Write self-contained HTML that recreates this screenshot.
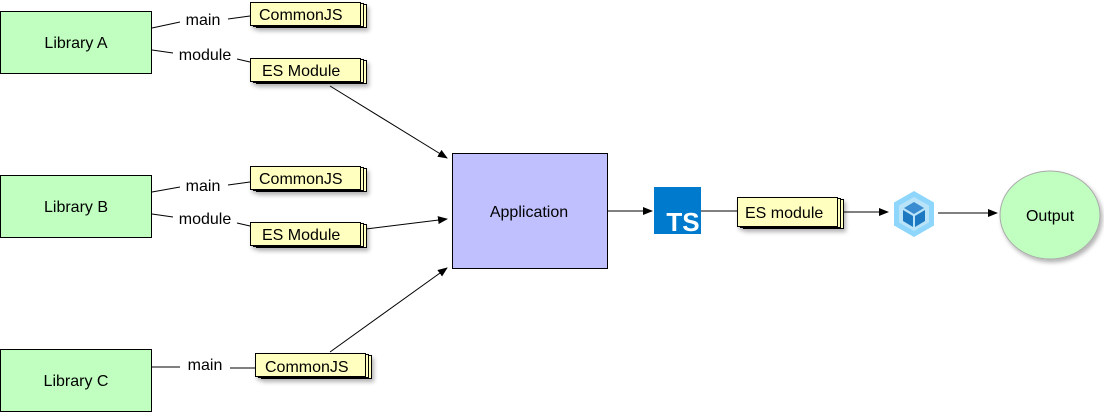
<!DOCTYPE html>
<html><head><meta charset="utf-8"><style>
html,body{margin:0;padding:0;background:#fff;}
svg{display:block;font-family:"Liberation Sans",Arial,sans-serif;}
</style></head><body>
<svg width="1104" height="414" viewBox="0 0 1104 414" xmlns="http://www.w3.org/2000/svg">
<defs>
<marker id="ar" markerWidth="10" markerHeight="8" refX="9" refY="4" orient="auto" markerUnits="userSpaceOnUse">
<path d="M0,0 L10,4 L0,8 Z" fill="#000"/></marker>
<filter id="sh" x="-10%" y="-10%" width="130%" height="140%"><feDropShadow dx="2" dy="3" stdDeviation="2" flood-color="#000" flood-opacity="0.3"/></filter>
</defs>
<g stroke="#000" stroke-width="1" fill="#c0ffc0">
<rect x="0.5" y="11.5" width="151" height="62"/>
<rect x="0.5" y="175.5" width="151" height="62"/>
<rect x="0.5" y="349.5" width="151" height="62"/>
</g>
<g font-size="16" fill="#000" text-anchor="middle">
<text x="76" y="48">Library A</text>
<text x="76" y="212">Library B</text>
<text x="76" y="386">Library C</text>
</g>
<g stroke="#000" stroke-width="1" fill="none">
<path d="M152,28 L180,22 M228,19 L250,16"/>
<path d="M152,50 L173,53 M237,59 L250,62"/>
<path d="M152,192 L180,187 M228,185 L250,182"/>
<path d="M152,214 L173,217 M237,223 L250,226"/>
<path d="M152,367 L180,367 M230,368 L255,368"/>
</g>
<g font-size="16" fill="#000" text-anchor="middle">
<text x="203" y="25">main</text>
<text x="205" y="60">module</text>
<text x="203" y="191">main</text>
<text x="205" y="224">module</text>
<text x="205" y="370">main</text>
</g>
<g stroke="#000" stroke-width="1" fill="#ffffc0">
<g filter="url(#sh)"><rect x="256.5" y="4.5" width="110" height="23"/><rect x="253.5" y="3.5" width="110" height="23"/><rect x="250.5" y="2.5" width="110" height="23"/></g>
<g filter="url(#sh)"><rect x="256.5" y="60.5" width="110" height="23"/><rect x="253.5" y="59.5" width="110" height="23"/><rect x="250.5" y="58.5" width="110" height="23"/></g>
<g filter="url(#sh)"><rect x="256.5" y="168.5" width="110" height="23"/><rect x="253.5" y="167.5" width="110" height="23"/><rect x="250.5" y="166.5" width="110" height="23"/></g>
<g filter="url(#sh)"><rect x="256.5" y="224.5" width="110" height="23"/><rect x="253.5" y="223.5" width="110" height="23"/><rect x="250.5" y="222.5" width="110" height="23"/></g>
<g filter="url(#sh)"><rect x="261.5" y="355.5" width="110" height="23"/><rect x="258.5" y="354.5" width="110" height="23"/><rect x="255.5" y="353.5" width="110" height="23"/></g>
<g filter="url(#sh)"><rect x="743.5" y="199.5" width="100" height="29"/><rect x="740.5" y="198.5" width="100" height="29"/><rect x="737.5" y="197.5" width="100" height="29"/></g>
</g>
<g font-size="16" fill="#000">
<text x="259" y="20">CommonJS</text>
<text x="262" y="76">ES Module</text>
<text x="259" y="184">CommonJS</text>
<text x="262" y="240">ES Module</text>
<text x="265" y="372">CommonJS</text>
<text x="745" y="218">ES module</text>
</g>
<rect x="452.5" y="153.5" width="155" height="115" fill="#c0c0ff" stroke="#000"/>
<text x="529" y="217" font-size="16" text-anchor="middle">Application</text>
<g stroke="#000" stroke-width="1" fill="none" marker-end="url(#ar)">
<line x1="330" y1="86" x2="447" y2="158"/>
<line x1="366" y1="229" x2="447" y2="219"/>
<line x1="330" y1="352" x2="447" y2="268"/>
<line x1="608" y1="211" x2="652" y2="211"/>
<line x1="844" y1="212" x2="888" y2="212"/>
<line x1="938" y1="213" x2="997" y2="213"/>
</g>
<line x1="701" y1="211" x2="737" y2="211" stroke="#000"/>
<rect x="654" y="187" width="47" height="47" fill="#007acc"/>
<text x="683" y="231" font-size="26" font-weight="bold" fill="#fff" text-anchor="middle">TS</text>
<g transform="translate(914,214)">
<polygon points="0,-23 20,-11.5 20,11.5 0,23 -20,11.5 -20,-11.5" fill="#8ed6fb"/>
<polygon points="0,-17 15,-8.5 15,8.5 0,17 -15,8.5 -15,-8.5" fill="#d5ebf7" opacity="0.6"/>
<polygon points="0,-12 10,-6 0,0 -10,-6" fill="#3a8cd0"/>
<polygon points="-11,-4 -1,2 -1,13 -11,7" fill="#1c78c0"/>
<polygon points="11,-4 1,2 1,13 11,7" fill="#1c78c0"/>
</g>
<ellipse cx="1050" cy="215" rx="50" ry="44" fill="#c0ffc0" stroke="#aaa" filter="url(#sh)"/>
<text x="1050" y="221" font-size="16" text-anchor="middle">Output</text>
</svg>
</body></html>
